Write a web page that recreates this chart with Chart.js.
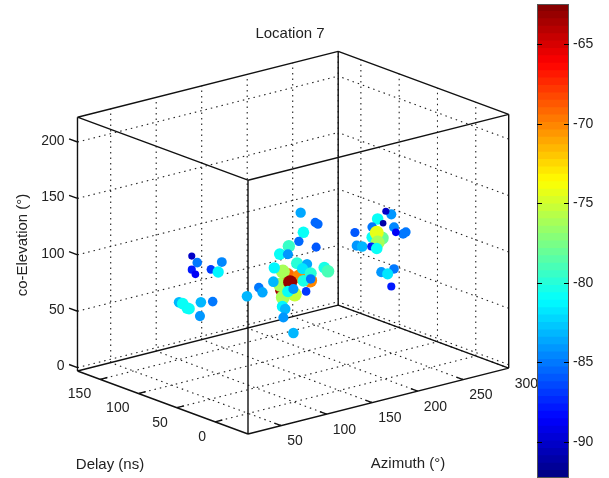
<!DOCTYPE html>
<html>
<head>
<meta charset="utf-8">
<title>Location 7</title>
<script src="https://cdn.jsdelivr.net/npm/chart.js@4.4.1/dist/chart.umd.min.js"></script>
<style>
  html, body { margin:0; padding:0; background:#fff; }
  #wrap { position:relative; width:609px; height:478px; overflow:hidden; }
  #plot { position:absolute; left:0; top:0; filter:blur(0.35px); }
  #bar { position:absolute; left:537px; top:0; filter:blur(0.35px); }
</style>
</head>
<body>
<div id="wrap">
  <canvas id="plot" width="609" height="478"></canvas>
  <canvas id="bar" width="72" height="478"></canvas>
</div>
<script>
const azTicks = [50, 100, 150, 200, 250, 300];
const delayTicks = [0, 50, 100, 150];
const elevationTicks = [0, 50, 100, 150, 200];
const powerTicks = [-65, -70, -75, -80, -85, -90];

// one entry per path; centre cluster, then right, then left
const azimuth = [
  93, 118, 106, 87, 88, 85, 93, 101, 88, 96,
  116, 132, 135, 119, 114, 133, 103, 93, 102, 112, 123, 87, 118, 127, 142, 146, 119, 127, 86, 102, 108, 122, 70, 74, 57, 96, 99, 97, 108,
  224, 218, 209, 215, 203, 227, 240, 237, 229, 184, 203, 214, 208, 209, 186, 192, 202, 208, 227, 213, 220, 224,
  30, 36, 30, 34, 63, 51, 59, 16, 20, 25, 27, 40, 53, 39
];
const delay = [
  0, 0, 0, 0, 0, 0, 0, 0, 0, 0,
  10, 10, 10, 10, 10, 10, 10, 10, 10, 10, 10, 10, 10, 10, 10, 10, 10, 10, 10, 10, 10, 10, 10, 10, 10, 10, 10, 10, 10,
  20, 20, 20, 20, 20, 20, 20, 20, 20, 20, 20, 20, 20, 20, 20, 20, 20, 20, 20, 20, 20, 20,
  50, 50, 50, 50, 50, 50, 50, 50, 50, 50, 50, 50, 50, 50
];
const elevation = [
  111, 101, 107, 99, 115, 104, 99, 92, 92, 104,
  159, 147, 145, 141, 134, 125, 132, 127, 125, 115, 112, 116, 109, 103, 105, 101, 98, 98, 104, 92, 93, 88, 102, 97, 97, 80, 77, 70, 54,
  133, 137, 132, 127, 126, 121, 114, 113, 116, 125, 117, 114, 120, 111, 113, 111, 109, 106, 84, 84, 81, 69,
  128, 121, 116, 111, 116, 112, 108, 90, 88, 83, 82, 85, 83, 73
];
const power = [
  -69, -70, -70, -63.5, -76, -76, -76, -75.5, -76, -63,
  -83.5, -85.5, -85.5, -81, -85.5, -86, -79.5, -81, -84, -80, -83.5, -81.5, -82, -80, -80.5, -79, -80.5, -85, -83, -81, -84, -87, -85, -83.5, -83, -81.5, -83, -84, -83,
  -84, -90, -81, -91, -85, -84.5, -85, -85, -89, -86, -81, -78, -74.5, -76, -84, -83, -88, -81, -85, -84, -82, -88,
  -90, -85, -88, -89, -84.5, -87, -81.5, -83, -81, -81, -81, -83, -85, -84
];

const AZ_MIN = 13.5, AZ_MAX = 300;
const DELAY_MIN = -43, DELAY_MAX = 179.6;
const EL_MIN = -3, EL_MAX = 222;
const POWER_MIN = -92.27, POWER_MAX = -62.46;
const FONT = '"Liberation Sans", Arial, sans-serif';
const INK = '#222';

// fixed view of the 3d box, worked out from its corners in the picture
function project(az, del, el){
  const u = az - AZ_MIN, w = del - DELAY_MIN, v = el - EL_MIN;
  return { x: 248 + 0.91*u - 0.766*w, y: 434 - 0.23*u - 0.283*w - 1.128*v };
}

function jet(p){
  const lvl = Math.min(63, Math.max(0, Math.floor((p - POWER_MIN)/(POWER_MAX - POWER_MIN)*64)));
  const t = (lvl + 0.5)/64;
  const c = k => Math.round(255*Math.min(1, Math.max(0, 1.5 - Math.abs(4*t - k))));
  return `rgb(${c(3)},${c(2)},${c(1)})`;
}

function segments(list){
  const out = [];
  list.forEach(seg => {
    seg.forEach(q => out.push(project(q[0], q[1], q[2])));
    out.push({ x: NaN, y: NaN });
  });
  return out;
}

const gridSegs = [];
azTicks.forEach(a => {
  gridSegs.push([[a, DELAY_MAX, EL_MIN], [a, DELAY_MAX, EL_MAX]]);
  gridSegs.push([[a, DELAY_MIN, EL_MIN], [a, DELAY_MAX, EL_MIN]]);
});
delayTicks.forEach(d => {
  gridSegs.push([[AZ_MAX, d, EL_MIN], [AZ_MAX, d, EL_MAX]]);
  gridSegs.push([[AZ_MIN, d, EL_MIN], [AZ_MAX, d, EL_MIN]]);
});
elevationTicks.forEach(e => {
  gridSegs.push([[AZ_MIN, DELAY_MAX, e], [AZ_MAX, DELAY_MAX, e]]);
  gridSegs.push([[AZ_MAX, DELAY_MIN, e], [AZ_MAX, DELAY_MAX, e]]);
});

const a0 = AZ_MIN, a1 = AZ_MAX, d0 = DELAY_MIN, d1 = DELAY_MAX, e0 = EL_MIN, e1 = EL_MAX;
const boxSegs = [
  [[a0,d0,e0],[a1,d0,e0]], [[a1,d0,e0],[a1,d1,e0]], [[a1,d1,e0],[a0,d1,e0]], [[a0,d1,e0],[a0,d0,e0]],
  [[a0,d0,e1],[a1,d0,e1]], [[a1,d0,e1],[a1,d1,e1]], [[a1,d1,e1],[a0,d1,e1]], [[a0,d1,e1],[a0,d0,e1]],
  [[a0,d0,e0],[a0,d0,e1]], [[a1,d0,e0],[a1,d0,e1]], [[a1,d1,e0],[a1,d1,e1]], [[a0,d1,e0],[a0,d1,e1]]
];
azTicks.forEach(a => boxSegs.push([[a, d0, e0], [a, d0 + 9, e0]]));
delayTicks.forEach(d => boxSegs.push([[a0, d, e0], [a0 + 8, d, e0]]));
elevationTicks.forEach(e => boxSegs.push([[a0, d1, e], [a0, d1 + 11, e]]));

const textPlugin = {
  id: 'boxText',
  afterDraw(chart){
    const { ctx, scales } = chart;
    const at = q => { const p = project(q[0], q[1], q[2]); return [scales.x.getPixelForValue(p.x), scales.y.getPixelForValue(p.y)]; };
    ctx.save();
    ctx.fillStyle = INK;
    ctx.textBaseline = 'middle';
    ctx.font = '14px ' + FONT;
    ctx.textAlign = 'left';
    azTicks.forEach(a => { const [x, y] = at([a, d0, e0]); ctx.fillText(String(a), x + 6, y + 16); });
    ctx.textAlign = 'right';
    delayTicks.forEach(d => { const [x, y] = at([a0, d, e0]); ctx.fillText(String(d), x - 9, y + 15); });
    elevationTicks.forEach(e => { const [x, y] = at([a0, d1, e]); ctx.fillText(String(e), x - 13, y - 1); });
    ctx.font = '15px ' + FONT;
    ctx.textAlign = 'center';
    ctx.fillText('Location 7', 290, 34);
    ctx.fillText('Delay (ns)', 110, 465);
    ctx.fillText('Azimuth (°)', 408, 464);
    ctx.translate(23, 245);
    ctx.rotate(-Math.PI/2);
    ctx.fillText('co-Elevation (°)', 0, 0);
    ctx.restore();
  }
};

new Chart(document.getElementById('plot'), {
  type: 'scatter',
  data: {
    datasets: [
      {
        label: 'paths',
        data: azimuth.map((a, i) => project(a, delay[i], elevation[i])),
        backgroundColor: power.map(jet),
        borderWidth: 0,
        pointRadius: power.map(p => Math.min(7, 3.3 + (p + 91)*0.25)),
        order: 0
      },
      {
        label: 'box',
        data: segments(boxSegs),
        showLine: true, pointRadius: 0, borderColor: '#111', borderWidth: 1.4,
        order: 1
      },
      {
        label: 'grid',
        data: segments(gridSegs),
        showLine: true, pointRadius: 0, borderColor: '#222', borderWidth: 1.1, borderDash: [1.5, 4],
        order: 2
      }
    ]
  },
  options: {
    responsive: false,
    animation: false,
    layout: { padding: 0, autoPadding: false },
    plugins: { legend: { display: false }, tooltip: { enabled: false } },
    scales: {
      x: { type: 'linear', display: false, min: 0, max: 609 },
      y: { type: 'linear', display: false, min: 0, max: 478, reverse: true }
    }
  },
  plugins: [textPlugin]
});

// colour bar
const levels = Array.from({ length: 64 }, (_, i) => i);
const step = (POWER_MAX - POWER_MIN)/64;

const barFrame = {
  id: 'barFrame',
  afterDatasetsDraw(chart){
    const { ctx, chartArea: a, scales } = chart;
    ctx.save();
    ctx.strokeStyle = '#555';
    ctx.lineWidth = 1;
    ctx.strokeRect(a.left + 0.5, a.top + 0.5, a.right - a.left - 1, a.bottom - a.top - 1);
    ctx.strokeStyle = '#000';
    powerTicks.forEach(p => {
      const y = Math.round(scales.y.getPixelForValue(p)) + 0.5;
      ctx.beginPath();
      ctx.moveTo(a.left, y); ctx.lineTo(a.left + 5, y);
      ctx.moveTo(a.right - 5, y); ctx.lineTo(a.right, y);
      ctx.stroke();
    });
    ctx.restore();
  }
};

new Chart(document.getElementById('bar'), {
  type: 'bar',
  data: {
    labels: [''],
    datasets: levels.map(i => ({
      data: [[POWER_MIN + i*step, POWER_MIN + (i + 1)*step + 0.01]],
      backgroundColor: jet(POWER_MIN + (i + 0.5)*step),
      borderWidth: 0,
      barPercentage: 1,
      categoryPercentage: 1
    }))
  },
  options: {
    responsive: false,
    animation: false,
    layout: { padding: { top: 4, bottom: 0 }, autoPadding: false },
    plugins: { legend: { display: false }, tooltip: { enabled: false } },
    datasets: { bar: { grouped: false } },
    scales: {
      x: { display: false },
      y: {
        position: 'right',
        min: POWER_MIN,
        max: POWER_MAX,
        afterBuildTicks: s => { s.ticks = powerTicks.map(v => ({ value: v })); },
        afterFit: s => { s.width = 40; s.paddingTop = 0; s.paddingBottom = 0; },
        grid: { display: false, drawTicks: false },
        border: { display: false },
        ticks: { padding: 4, color: INK, font: { family: FONT, size: 14 }, callback: v => String(v) }
      }
    }
  },
  plugins: [barFrame]
});
</script>
</body>
</html>
